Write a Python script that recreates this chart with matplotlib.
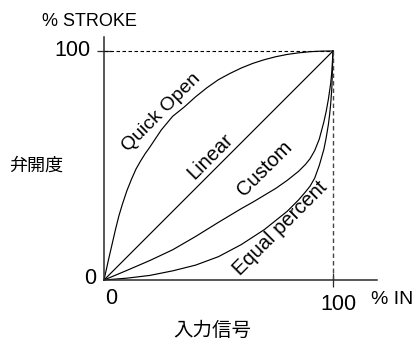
import matplotlib
matplotlib.use("Agg")
import matplotlib.pyplot as plt

plt.rcParams['font.family'] = ['Liberation Sans', 'Noto Sans CJK JP', 'DejaVu Sans']

# ---- data (percent of input signal vs percent stroke) ----
quick_x = [0, 1, 2, 3.5, 5, 6.5, 8, 10, 12, 14, 16, 18, 20, 25, 30, 35, 40, 45, 50, 55, 60, 65, 70, 75, 80, 85, 90, 95, 100]
quick_y = [0, 4.5, 9, 15.5, 22, 28, 33, 39, 44, 48.5, 52, 55.2, 58, 65.5, 71.5, 75.5, 80, 84, 87.5, 90.2, 92.6, 94.6, 96.2, 97.5, 98.5, 99.2, 99.7, 99.95, 100]

linear_x = [0, 100]
linear_y = [0, 100]

custom_x = [0, 10, 20, 30, 40, 50, 55, 60, 65, 70, 75, 80, 85, 88, 90, 92, 94, 96, 97, 98, 99, 99.5, 100]
custom_y = [0, 4.2, 8.5, 13.2, 19, 25.2, 28.2, 31.2, 34, 37, 40, 43.5, 47.5, 50.5, 53, 56.5, 61.5, 69, 73.5, 79, 86, 91, 100]

equal_x = [0, 10, 20, 30, 40, 50, 60, 70, 75, 80, 85, 88, 90, 92, 94, 96, 97, 98, 98.5, 99, 99.5, 100]
equal_y = [0, 0.8, 2, 4, 6.5, 10.2, 15.5, 22, 26, 30, 35, 38.5, 41, 44.5, 50, 57, 62, 68, 72, 77, 84, 100]

curve_labels = ["Quick Open", "Linear", "Custom", "Equal percent"]
full_scale = 100
tick_labels_y = ["0", "100"]
tick_labels_x = ["0", "100"]
x_unit = "% IN"
y_unit = "% STROKE"
x_title = "入力信号"
y_title = "弁開度"

W, H = 417, 345
fig = plt.figure(figsize=(W / 100, H / 100), dpi=100)

# axes: origin at px (104,280); 100% at px (333,51)
px_per = 2.29
left, bottom = 104, 280
ax = fig.add_axes([left / W, (H - bottom) / H, (377 - left) / W, (bottom - 37) / H])
ax.set_xlim(0, (377 - left) / px_per)
ax.set_ylim(0, (bottom - 37) / px_per)
ax.set_facecolor('none')
for s in ['top', 'right']:
    ax.spines[s].set_visible(False)
for s in ['left', 'bottom']:
    ax.spines[s].set_linewidth(1.1)
    ax.spines[s].set_color('#2a2a2a')

ax.set_xticks([full_scale])
ax.set_yticks([full_scale])
ax.set_xticklabels([])
ax.set_yticklabels([])
ax.tick_params(axis='both', direction='inout', length=10, width=0.9, color='#2a2a2a')

lw = 0.85
ax.plot(quick_x, quick_y, color='black', lw=lw, clip_on=False)
ax.plot(linear_x, linear_y, color='black', lw=lw, clip_on=False)
ax.plot(custom_x, custom_y, color='black', lw=lw, clip_on=False)
ax.plot(equal_x, equal_y, color='black', lw=lw, clip_on=False)

# dashed guide lines
ax.plot([0, full_scale], [full_scale, full_scale], color='black', lw=0.8,
        dashes=(3.2, 2.2), clip_on=False)
ax.plot([full_scale, full_scale], [0, full_scale], color='#444444', lw=1.0,
        dashes=(3.2, 2.2), clip_on=False)

# curve labels
fs_lab = 14.5
ax.text(25.3, 73.2, curve_labels[0], rotation=45, ha='center', va='center', fontsize=fs_lab - 0.5)
ax.text(46.3, 54.0, curve_labels[1], rotation=45, ha='center', va='center', fontsize=fs_lab)
ax.text(70.3, 48.5, curve_labels[2], rotation=45, ha='center', va='center', fontsize=fs_lab)
ax.text(76.9, 22.7, curve_labels[3], rotation=45, ha='center', va='center', fontsize=fs_lab)

def fx(px):
    return px / W

def fy(py):
    return 1 - py / H

fs_num = 15.5
fig.text(fx(90), fy(50), tick_labels_y[1], ha='right', va='center', fontsize=fs_num)
fig.text(fx(90), fy(279), tick_labels_y[0], ha='center', va='center', fontsize=fs_num)
fig.text(fx(111), fy(299), tick_labels_x[0], ha='center', va='center', fontsize=fs_num)
fig.text(fx(338), fy(304), tick_labels_x[1], ha='center', va='center', fontsize=fs_num)
fig.text(fx(371), fy(300), x_unit, ha='left', va='center', fontsize=14)
fig.text(fx(89), fy(22), y_unit, ha='center', va='center', fontsize=13)
fig.text(fx(36), fy(166), y_title, ha='center', va='center', fontsize=13,
         family=['Noto Sans CJK JP', 'DejaVu Sans'])
fig.text(fx(212), fy(330), x_title, ha='center', va='center', fontsize=14,
         family=['Noto Sans CJK JP', 'DejaVu Sans'])

fig.savefig('out.png', dpi=100, facecolor='white')
